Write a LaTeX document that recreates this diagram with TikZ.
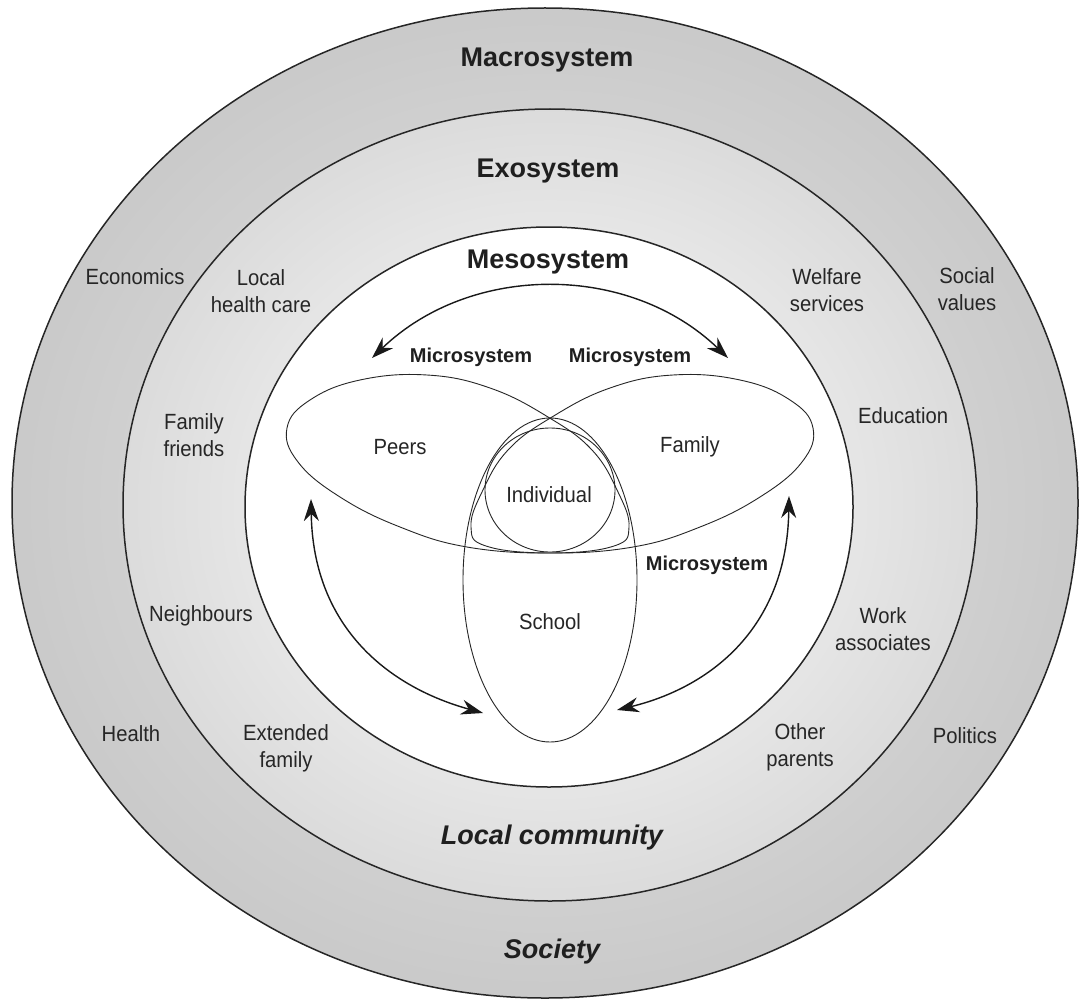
\documentclass[tikz,border=0pt]{standalone}
\usepackage{fontspec}
\setmainfont{Liberation Sans}
\newfontfamily\condfont[FakeStretch=0.92]{Liberation Sans}
\usetikzlibrary{arrows.meta}
\begin{document}
\begin{tikzpicture}[x=1pt,y=-1pt,
  ring/.style={line width=1.5pt, draw=black!85},
  venn/.style={line width=0.9pt, draw=black!85},
  big/.style={font=\fontsize{27}{30}\selectfont\bfseries, text=black!88},
  bigit/.style={font=\fontsize{27}{30}\selectfont\bfseries\itshape, text=black!88},
  micro/.style={font=\fontsize{20}{24}\selectfont\bfseries, text=black!88},
  lbl/.style={font=\condfont\fontsize{22}{27}\selectfont, align=center, text=black!85},
  link/.style={line width=1.4pt, draw=black!90, {Stealth[length=22pt,width=15pt]}-{Stealth[length=22pt,width=15pt]}},
]
\useasboundingbox (0,0) rectangle (1083,1003);
% rings
\shade[inner color=black!9, outer color=black!21] (545,503) ellipse [x radius=533, y radius=495];
\draw[ring] (545,503) ellipse [x radius=533, y radius=495];
\shade[inner color=white, outer color=black!14] (550,505) ellipse [x radius=427, y radius=396];
\draw[ring] (550,505) ellipse [x radius=427, y radius=396];
\fill[white] (549,507) ellipse [x radius=304, y radius=280];
\draw[ring] (549,507) ellipse [x radius=304, y radius=280];

% Venn shapes
\draw[venn] plot[smooth cycle, tension=0.7] coordinates {(287,428) (310,400) (360,380) (427,375) (490,388) (548,417) (592,450) (618,492) (629,527) (614,546) (550,553) (467,547) (400,527) (340,497) (298,462)};
\draw[venn] plot[smooth cycle, tension=0.7] coordinates {(813,428) (790,400) (740,380) (673,375) (610,388) (552,417) (508,450) (482,492) (471,527) (486,546) (550,553) (633,547) (700,527) (760,497) (802,462)};
\draw[venn] (550,580) ellipse [x radius=87, y radius=162];
\draw[venn] (550,490) ellipse [x radius=65, y radius=62];

% labels
\node[big] (macro) at (547,60) {Macrosystem};
\node[big] (exo) at (548,171) {Exosystem};
\node[big] (meso) at (548,262) {Mesosystem};
\node[bigit] (lc) at (552,838) {Local community};
\node[bigit] (soc) at (552,952) {Society};

\node[lbl] (econ) at (135,277) {Economics};
\node[lbl] (lhc) at (261,291) {Local\\health care};
\node[lbl] (wel) at (827,290) {Welfare\\services};
\node[lbl] (sv) at (967,289) {Social\\values};
\node[lbl] (ff) at (194,435) {Family\\friends};
\node[lbl] (edu) at (903,416) {Education};
\node[lbl] (nb) at (201,616) {Neighbours};
\node[lbl] (wa) at (883,629) {Work\\associates};
\node[lbl] (hl) at (131,734) {Health};
\node[lbl] (ef) at (286,748) {Extended\\family};
\node[lbl] (op) at (800,747) {Other\\parents};
\node[lbl] (pol) at (965,736) {Politics};

\node[lbl] (peers) at (400,447) {Peers};
\node[lbl] (fam) at (690,447) {Family};
\node[lbl] (ind) at (549,495) {Individual};
\node[lbl] (sch) at (550,622) {School};

\node[micro] (mic1) at (471,357) {Microsystem};
\node[micro] (mic2) at (630,357) {Microsystem};
\node[micro] (mic3) at (707,565) {Microsystem};

% arrows
\coordinate (a1) at (372,358);
\coordinate (a2) at (728,358);
\draw[link] (a1) .. controls (471,263) and (629,263) .. (a2);
\coordinate (b1) at (311,499);
\coordinate (b2) at (483,713);
\draw[link] (b1) .. controls (313,630) and (392,688) .. (b2);
\coordinate (c1) at (789,496);
\coordinate (c2) at (617,710);
\draw[link] (c1) .. controls (787,630) and (708,688) .. (c2);
\end{tikzpicture}
\end{document}
